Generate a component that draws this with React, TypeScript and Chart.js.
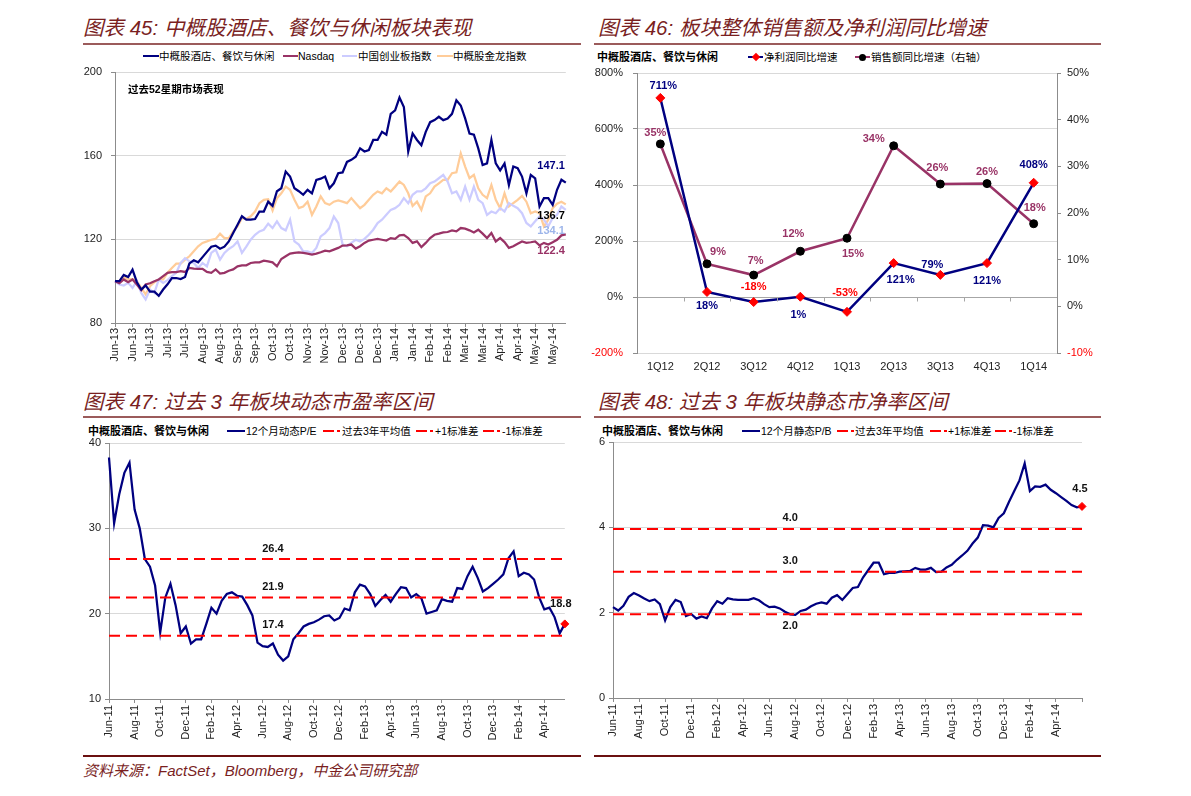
import React, { useEffect, useRef } from 'react';
import { Chart, registerables } from 'chart.js';

Chart.register(...registerables);

const LATIN = '"Liberation Sans", Arial, "Noto Sans CJK SC", sans-serif';
const CJK = '"Liberation Sans", "Noto Sans CJK SC", sans-serif';

// ================= 图表45 data =================
const c45TickLabels = ['Jun-13', 'Jun-13', 'Jul-13', 'Jul-13', 'Jul-13', 'Aug-13', 'Aug-13', 'Sep-13', 'Sep-13', 'Oct-13', 'Oct-13', 'Nov-13', 'Nov-13', 'Dec-13', 'Dec-13', 'Dec-13', 'Jan-14', 'Jan-14', 'Feb-14', 'Feb-14', 'Mar-14', 'Mar-14', 'Apr-14', 'Apr-14', 'May-14', 'May-14'];
const c45Hotel = [
  100, 100, 103, 102, 105.5, 99.5, 96, 98, 95, 95,
  93, 96, 98.5, 101.5, 101.5, 101, 102, 108.5, 110, 109,
  111.5, 114, 116.5, 117, 115.5, 116.5, 119, 123, 127, 131,
  129.4, 129.4, 129.7, 133.3, 133.3, 138, 136, 143, 144.4, 152.4,
  150, 144.4, 143, 141.3, 143.7, 142, 148.4, 149, 150, 144.4,
  146.8, 151.6, 152, 157, 158, 159.5, 163.5, 162, 162.7, 167.5,
  167.5, 171.4, 170, 180, 181.7, 187.8, 183.3, 162, 170.6, 167.5,
  165, 171.4, 176, 177, 178.6, 177, 177.8, 180, 186.5, 184,
  177.8, 170.6, 170, 163.5, 155.5, 156.3, 167.5, 156.3, 153, 156.3,
  146, 154.8, 154, 150, 142, 150.8, 149.2, 135.7, 139.7, 139.7,
  136.5, 143.7, 148.5, 147.1,
];
const c45Nasdaq = [
  100, 99, 100.8, 99.5, 100.8, 98.4, 95.7, 98.4, 99, 100,
  100.8, 102.4, 104, 104.3, 104.3, 104.8, 104.4, 106.3, 106, 105.9,
  105.9, 104.4, 104, 105.6, 103.6, 104, 105, 105.6, 107.1, 107.5,
  107.6, 108.7, 109, 109, 109.8, 109.5, 109, 107.1, 110.6, 111.9,
  113.2, 113.5, 113.8, 113.5, 113.2, 112.7, 113.2, 113.8, 114.6, 114.3,
  115.1, 115.9, 117, 117.1, 117.5, 115.6, 116.7, 118.3, 119.4, 119.8,
  120.2, 119.8, 119.4, 120.6, 120.2, 121.9, 122.1, 120.6, 118.3, 119,
  116.3, 118.3, 120.6, 122.2, 122.7, 123.3, 123.5, 124.3, 123.8, 125.4,
  125.1, 124.3, 123.3, 124.6, 122.7, 120.6, 123, 119, 120.6, 118.7,
  115.9, 116.7, 117.9, 119, 118.3, 118.6, 119, 117.1, 118.3, 117.5,
  118.6, 119.8, 121.9, 122.4,
];
const c45ChiNext = [
  100, 98.4, 97.9, 99.2, 96.8, 100, 94.4, 91.3, 96, 94.4,
  100.8, 99.2, 100.5, 102.4, 104, 108.7, 111, 109.5, 108.7, 106.3,
  108.7, 107.1, 113.5, 115.1, 110.3, 113.5, 115.4, 116.7, 119, 113.5,
  116.5, 119.8, 122.2, 123.8, 124.6, 127.5, 125.4, 128.6, 125.4, 124.3,
  129.4, 119, 117.5, 114.3, 114.3, 113.5, 115.9, 121.4, 123, 125.4,
  130.9, 127.8, 117.5, 116.7, 118.3, 119.8, 119, 120.2, 122.2, 124.6,
  127.8, 129.4, 131.7, 134.1, 134.9, 136.5, 139.7, 137.3, 141.3, 142.9,
  142.9, 144.4, 146.8, 147.6, 149.2, 150.8, 147.6, 142, 142.9, 138.9,
  145.2, 138.9, 145.2, 138.9, 137.3, 131.7, 133.3, 132.5, 134.9, 133.3,
  137.3, 136, 134.9, 132.5, 127.8, 126.2, 128.6, 130.9, 129.4, 126.2,
  130.2, 131.7, 135.7, 134.1,
];
const c45Golden = [
  100, 100, 102, 100.8, 101, 100, 96.8, 93.7, 97.6, 99.5,
  100.8, 100.8, 104, 106.3, 108.4, 108.4, 110.3, 111.9, 114.3, 116.7,
  118.3, 119, 119.8, 120.2, 122.7, 120.6, 120.6, 123.8, 126.2, 130.2,
  129.7, 131, 133.3, 137.3, 138.9, 139.2, 133.8, 139.7, 142, 145.2,
  143.7, 138.9, 134.9, 135.7, 138, 131.7, 135.7, 140.5, 137.3, 136.5,
  138, 138.6, 138, 137.3, 139.7, 137.3, 134.9, 136.5, 138.9, 141.3,
  142.9, 142, 144.4, 142.9, 145.2, 147.6, 146, 142, 136, 138,
  134.1, 140.5, 142, 145.2, 146.8, 148.4, 148.4, 151.6, 152, 161.1,
  154.8, 149.2, 150.8, 144.4, 141.3, 139.7, 146, 138.9, 134.9, 142,
  135.7, 137.3, 138.9, 140.8, 138, 132.5, 133.3, 132.5, 126.2, 129.4,
  134.9, 137, 138, 136.7,
];
const c45Names = ['中概股酒店、餐饮与休闲', 'Nasdaq', '中国创业板指数', '中概股金龙指数'];
const c45Note = '过去52星期市场表现';

// ================= 图表46 data =================
const c46Quarters = ['1Q12', '2Q12', '3Q12', '4Q12', '1Q13', '2Q13', '3Q13', '4Q13', '1Q14'];
const c46NetProfitGrowth = [711, 18, -18, 1, -53, 121, 79, 121, 408];
const c46SalesGrowth = [34.8, 9.1, 6.7, 11.8, 14.6, 34.4, 26.2, 26.3, 17.7];
const c46Names = ['净利润同比增速', '销售额同比增速（右轴）'];

// ================= 图表47 / 48 data =================
const c47TickLabels = ['Jun-11', 'Aug-11', 'Oct-11', 'Dec-11', 'Feb-12', 'Apr-12', 'Jun-12', 'Aug-12', 'Oct-12', 'Dec-12', 'Feb-13', 'Apr-13', 'Jun-13', 'Aug-13', 'Oct-13', 'Dec-13', 'Feb-14', 'Apr-14'];
const c47PE = [
  38.3, 30.6, 34, 36.5, 37.7, 32.2, 30, 26.4, 25.5, 23.3,
  17.8, 21.9, 23.5, 21, 17.7, 18.5, 16.5, 17, 17, 18.8,
  20.7, 20, 21.5, 22.3, 22.5, 22.1, 22, 21, 19.8, 16.6,
  16.2, 16.1, 16.5, 15.2, 14.5, 15, 17, 17.7, 18.5, 18.8,
  19, 19.3, 19.7, 19.8, 19.2, 19.5, 20.6, 20.4, 22.5, 23.4,
  23.2, 22.3, 20.9, 21.6, 22.2, 21.4, 22.3, 23.1, 23, 21.9,
  22.3, 21.8, 20, 20.2, 20.4, 21.7, 21.5, 21.4, 23, 22.9,
  24.4, 25.5, 24.2, 22.6, 23, 23.5, 24, 24.6, 26.5, 27.3,
  24.4, 24.8, 24.6, 24, 21.9, 20.5, 20.7, 19.6, 17.7, 18.8,
];
const c47Bands = [26.4, 21.9, 17.4];
const c48PB = [
  2.13, 2.05, 2.16, 2.37, 2.46, 2.4, 2.33, 2.27, 2.31, 2.2,
  1.82, 2.13, 2.3, 2.25, 1.92, 1.97, 1.86, 1.91, 1.87, 2.1,
  2.27, 2.21, 2.34, 2.31, 2.3, 2.3, 2.3, 2.34, 2.29, 2.2,
  2.13, 2.14, 2.1, 2.02, 1.96, 1.95, 2.04, 2.07, 2.15, 2.21,
  2.24, 2.21, 2.35, 2.41, 2.3, 2.44, 2.58, 2.6, 2.83, 3.0,
  3.17, 3.17, 2.9, 2.93, 2.93, 2.96, 2.97, 2.98, 3.05, 3.01,
  3.01, 3.05, 2.95, 2.96, 3.06, 3.12, 3.24, 3.34, 3.45, 3.62,
  3.76, 4.05, 4.04, 4.0, 4.22, 4.33, 4.6, 4.85, 5.1, 5.5,
  4.85, 4.96, 4.95, 5.0, 4.88, 4.8, 4.71, 4.62, 4.52, 4.47,
  4.49,
];
const c48Bands = [3.96, 2.96, 1.96];
const bandNames = ['过去3年平均值', '+1标准差', '-1标准差'];

// ================= styling =================
const NAVY = '#000080';
const PLUM = '#993366';
const LAV = '#CCCCFF';
const PEACH = '#FFCC99';
const RED = '#FF0000';
const AXIS = '#8C8C8C';
const GRID = '#D9D9D9';
const TICKTXT = '#222222';
const TITLE_RED = '#7A1F1F';

function expandLabels(tickLabels: string[], step: number, count: number) {
  const out: string[] = [];
  for (let i = 0; i < count; i++) out.push(i % step === 0 && tickLabels[i / step] ? tickLabels[i / step] : '');
  return out;
}

function fixWidth(width: number) {
  return (s: any) => { s.width = width; s.paddingTop = 0; s.paddingBottom = 0; };
}

function xTimeAxis(step: number, height: number, padding: number) {
  return {
    grid: {
      drawOnChartArea: false,
      drawTicks: true,
      tickLength: 4,
      tickColor: (c: any) => (c.index % step === 0 ? AXIS : 'rgba(0,0,0,0)'),
    },
    border: { color: AXIS },
    ticks: { autoSkip: false, maxRotation: 90, minRotation: 90, padding, color: TICKTXT, font: { family: LATIN, size: 11 } },
    afterFit: (s: any) => { s.height = height; },
  };
}

function yAxis(min: number, max: number, step: number, width: number, padding: number) {
  return {
    min, max,
    ticks: { stepSize: step, padding, color: TICKTXT, font: { family: LATIN, size: 11 } },
    grid: { color: GRID, tickLength: 4, tickColor: AXIS },
    border: { color: AXIS },
    afterFit: fixWidth(width),
  };
}

const baseOpts = {
  animation: false,
  responsive: false,
  devicePixelRatio: 1,
  plugins: { legend: { display: false }, tooltip: { enabled: false } },
};

// ---------- chart 45 ----------
const c45EndColors = [NAVY, PLUM, '#9DB5EA', '#000000'];
const c45EndDy = [-17, 17, 21, 12];
function makeC45() {
  const series = [c45Hotel, c45Nasdaq, c45ChiNext, c45Golden];
  const colors = [NAVY, PLUM, LAV, PEACH];
  return {
    type: 'line',
    data: {
      labels: expandLabels(c45TickLabels, 4, c45Hotel.length),
      datasets: series.map((d, k) => ({
        label: c45Names[k], data: d, borderColor: colors[k], borderWidth: 2.25, pointRadius: 0, tension: 0,
      })),
    },
    options: {
      ...baseOpts,
      layout: { padding: { top: 8, right: 11 } },
      scales: { x: xTimeAxis(4, 52, 1), y: yAxis(80, 200, 40, 35, 9) },
    },
    plugins: [{
      id: 'c45ann',
      afterDatasetsDraw(chart: any) {
        const { ctx, chartArea, scales: { y } } = chart;
        ctx.save();
        ctx.textBaseline = 'middle';
        ctx.textAlign = 'left';
        ctx.fillStyle = '#000';
        ctx.font = `bold 10.5px ${CJK}`;
        ctx.fillText(c45Note, chartArea.left + 13, chartArea.top + 18);
        ctx.font = `bold 11px ${LATIN}`;
        ctx.textAlign = 'right';
        series.forEach((d, k) => {
          const v = d[d.length - 1];
          ctx.fillStyle = c45EndColors[k];
          ctx.fillText(v.toFixed(1), chartArea.right - 1, y.getPixelForValue(v) + c45EndDy[k]);
        });
        ctx.restore();
      },
    }],
  };
}

// ---------- chart 46 ----------
const c46ProfitOffsets = [[3, -12], [0, 14], [0, -15], [-2, 18], [-2, -19], [7, 17], [-8, -10], [0, 18], [0, -18]];
const c46SalesOffsets = [[-5, -11], [11, -12], [2, -14], [-7, -17], [6, 16], [-20, -7], [-3, -16], [0, -12], [1, -16]];
function makeC46() {
  const tickFont = { family: LATIN, size: 11 };
  return {
    type: 'line',
    data: {
      labels: c46Quarters,
      datasets: [
        {
          label: c46Names[0], data: c46NetProfitGrowth, yAxisID: 'y', borderColor: NAVY, borderWidth: 2.5,
          pointStyle: 'rectRot', pointRadius: 4.5, pointBackgroundColor: RED, pointBorderColor: RED, pointBorderWidth: 1,
        },
        {
          label: c46Names[1], data: c46SalesGrowth, yAxisID: 'y1', borderColor: PLUM, borderWidth: 2.5,
          pointStyle: 'circle', pointRadius: 4, pointBackgroundColor: '#000', pointBorderColor: '#000', pointBorderWidth: 1,
        },
      ],
    },
    options: {
      ...baseOpts,
      layout: { padding: { top: 9 } },
      scales: {
        x: {
          offset: true,
          grid: { display: false, drawTicks: false },
          border: { display: false },
          ticks: { padding: 7, color: TICKTXT, font: tickFont },
          afterFit: (s: any) => { s.height = 22; },
        },
        y: {
          position: 'left', min: -200, max: 800,
          ticks: {
            stepSize: 200, padding: 10, font: tickFont,
            callback: (v: number) => `${v}%`,
            color: (c: any) => (c.tick.value < 0 ? RED : TICKTXT),
          },
          grid: { color: (c: any) => (c.tick && c.tick.value === 0 ? '#A6A6A6' : GRID), tickLength: 4, tickColor: AXIS },
          border: { color: AXIS },
          afterFit: fixWidth(47),
        },
        y1: {
          position: 'right', min: -10, max: 50,
          ticks: {
            stepSize: 10, padding: 6, font: tickFont,
            callback: (v: number) => `${v}%`,
            color: (c: any) => (c.tick.value < 0 ? RED : TICKTXT),
          },
          grid: { drawOnChartArea: false, tickLength: 4, tickColor: AXIS },
          border: { color: AXIS },
          afterFit: fixWidth(43),
        },
      },
    },
    plugins: [{
      id: 'c46ann',
      afterDatasetsDraw(chart: any) {
        const { ctx, scales: { x, y, y1 } } = chart;
        ctx.save();
        const y0 = Math.round(y.getPixelForValue(0)) + 0.5;
        ctx.strokeStyle = '#A6A6A6';
        ctx.lineWidth = 1;
        for (let i = 1; i < c46Quarters.length; i++) {
          const px = Math.round((x.getPixelForValue(i - 1) + x.getPixelForValue(i)) / 2) + 0.5;
          ctx.beginPath(); ctx.moveTo(px, y0); ctx.lineTo(px, y0 + 4); ctx.stroke();
        }
        ctx.font = `bold 11px ${LATIN}`;
        ctx.textAlign = 'center';
        ctx.textBaseline = 'middle';
        c46NetProfitGrowth.forEach((v, i) => {
          const [dx, dy] = c46ProfitOffsets[i];
          ctx.fillStyle = v < 0 ? RED : NAVY;
          ctx.fillText(`${v}%`, x.getPixelForValue(i) + dx, y.getPixelForValue(v) + dy);
        });
        c46SalesGrowth.forEach((v, i) => {
          const [dx, dy] = c46SalesOffsets[i];
          ctx.fillStyle = PLUM;
          ctx.fillText(`${Math.round(v)}%`, x.getPixelForValue(i) + dx, y1.getPixelForValue(v) + dy);
        });
        ctx.restore();
      },
    }],
  };
}

// ---------- chart 47 / 48 ----------
function makeBandChart(o: any) {
  const last = o.data.length - 1;
  return {
    type: 'line',
    data: {
      labels: expandLabels(c47TickLabels, 5, o.data.length),
      datasets: [{
        label: o.name, data: o.data, borderColor: NAVY, borderWidth: 2.25, tension: 0,
        pointStyle: 'rectRot',
        pointRadius: (c: any) => (c.dataIndex === last ? 4 : 0),
        pointBackgroundColor: RED, pointBorderColor: RED, pointBorderWidth: 1,
      }],
    },
    options: {
      ...baseOpts,
      layout: { padding: { top: o.padTop, right: o.padRight } },
      scales: { x: xTimeAxis(5, o.xHeight, 2), y: yAxis(o.min, o.max, o.step, o.yWidth, 4) },
    },
    plugins: [{
      id: 'bands',
      afterDatasetsDraw(chart: any) {
        const { ctx, chartArea, scales: { x, y } } = chart;
        ctx.save();
        ctx.strokeStyle = RED;
        ctx.lineWidth = 2;
        ctx.setLineDash([11, 6]);
        o.bands.forEach((b: number) => {
          const py = y.getPixelForValue(b);
          ctx.beginPath(); ctx.moveTo(chartArea.left, py); ctx.lineTo(chartArea.right, py); ctx.stroke();
        });
        ctx.setLineDash([]);
        ctx.font = `bold 11px ${LATIN}`;
        ctx.textAlign = 'center';
        ctx.textBaseline = 'middle';
        ctx.fillStyle = '#111';
        o.bands.forEach((b: number, k: number) => {
          ctx.fillText(b.toFixed(1), x.getPixelForValue(o.labelIndex), y.getPixelForValue(b) + o.labelDy[k]);
        });
        const v = o.data[last];
        ctx.fillText(v.toFixed(1), x.getPixelForValue(last) + o.endDx, y.getPixelForValue(v) + o.endDy);
        ctx.restore();
      },
    }],
  };
}

const makeC47 = () => makeBandChart({
  name: '12个月动态P/E', data: c47PE, bands: c47Bands, min: 10, max: 40, step: 10,
  padTop: 11, padRight: 11, xHeight: 57, yWidth: 29, labelIndex: 32, labelDy: [-10, -10, -11], endDx: -4, endDy: -20,
});
const makeC48 = () => makeBandChart({
  name: '12个月静态P/B', data: c48PB, bands: c48Bands, min: 0, max: 6, step: 2,
  padTop: 10, padRight: 18, xHeight: 58, yWidth: 23, labelIndex: 34, labelDy: [-11, -11, 12], endDx: -2, endDy: -17,
});

// ================= components =================
function ChartCanvas({ left, top, width, height, make }: any) {
  const ref = useRef<HTMLCanvasElement | null>(null);
  useEffect(() => {
    const chart = new Chart(ref.current as HTMLCanvasElement, make());
    return () => chart.destroy();
  }, []);
  return <canvas ref={ref} width={width} height={height} style={{ position: 'absolute', left, top, width, height }} />;
}

function Title({ x, y, text }: any) {
  return (
    <div style={{ position: 'absolute', left: x, top: y - 13, height: 26, lineHeight: '26px', fontSize: 20.5, fontStyle: 'italic', color: TITLE_RED, fontFamily: CJK, whiteSpace: 'nowrap' }}>{text}</div>
  );
}

function Rule({ x, y, w, color }: any) {
  return <div style={{ position: 'absolute', left: x, top: y, width: w, height: 2, background: color }} />;
}

function LText({ x, y, text, bold, size }: any) {
  return (
    <div style={{ position: 'absolute', left: x, top: y - 8, height: 16, lineHeight: '16px', fontSize: size || 10.5, fontWeight: bold ? 'bold' : 'normal', fontFamily: CJK, color: '#000', whiteSpace: 'nowrap' }}>{text}</div>
  );
}

function LineSym({ x, y, w, color, h = 2.5 }: any) {
  return <div style={{ position: 'absolute', left: x, top: y - h / 2, width: w, height: h, background: color }} />;
}

function Diamond({ cx, cy, color }: any) {
  return <div style={{ position: 'absolute', left: cx - 3, top: cy - 3, width: 6, height: 6, background: color, transform: 'rotate(45deg)' }} />;
}

function Dot({ cx, cy, color }: any) {
  return <div style={{ position: 'absolute', left: cx - 3.5, top: cy - 3.5, width: 7, height: 7, background: color, borderRadius: '50%' }} />;
}

function DashSym({ x, y }: any) {
  return (
    <>
      <div style={{ position: 'absolute', left: x, top: y - 1.25, width: 10.5, height: 2.5, background: RED }} />
      <div style={{ position: 'absolute', left: x + 14, top: y - 1.25, width: 2.5, height: 2.5, background: RED }} />
    </>
  );
}

export default function App() {
  const ruleTop = '#9B5B5B';
  const ruleBottom = '#6B1010';
  return (
    <div style={{ position: 'absolute', left: 0, top: 0, width: 1191, height: 796, background: '#fff', overflow: 'hidden' }}>
      <Title x={83} y={28} text="图表 45: 中概股酒店、餐饮与休闲板块表现" />
      <Title x={598} y={28} text="图表 46: 板块整体销售额及净利润同比增速" />
      <Rule x={83} y={43} w={498} color={ruleTop} />
      <Rule x={594} y={43} w={507} color={ruleTop} />

      <Title x={83} y={402} text="图表 47: 过去 3 年板块动态市盈率区间" />
      <Title x={598} y={402} text="图表 48: 过去 3 年板块静态市净率区间" />
      <Rule x={83} y={416} w={498} color={ruleTop} />
      <Rule x={594} y={416} w={507} color={ruleTop} />

      {/* legend 45 */}
      <LineSym x={143} y={56} w={16} color={NAVY} />
      <LText x={159} y={56} text={c45Names[0]} />
      <LineSym x={283} y={56} w={15} color={PLUM} />
      <LText x={298} y={56} text={c45Names[1]} />
      <LineSym x={342} y={56} w={15} color={LAV} />
      <LText x={358} y={56} text={c45Names[2]} />
      <LineSym x={437} y={56} w={16} color={PEACH} />
      <LText x={453} y={56} text={c45Names[3]} />

      {/* legend 46 */}
      <LText x={597} y={57} text="中概股酒店、餐饮与休闲" bold size={11} />
      <LineSym x={748} y={57} w={15} color={NAVY} />
      <Diamond cx={755.5} cy={57} color={RED} />
      <LText x={764} y={57} text={c46Names[0]} />
      <LineSym x={855} y={57} w={15} color={PLUM} />
      <Dot cx={862.5} cy={57} color="#000" />
      <LText x={871} y={57} text={c46Names[1]} />

      {/* legend 47 */}
      <LText x={88} y={431} text="中概股酒店、餐饮与休闲" bold size={11} />
      <LineSym x={227} y={431} w={18} color={NAVY} />
      <LText x={246} y={431} text="12个月动态P/E" />
      <DashSym x={323} y={431} />
      <LText x={342} y={431} text={bandNames[0]} />
      <DashSym x={416} y={431} />
      <LText x={435} y={431} text={bandNames[1]} />
      <DashSym x={483} y={431} />
      <LText x={502} y={431} text={bandNames[2]} />

      {/* legend 48 */}
      <LText x={602} y={431} text="中概股酒店、餐饮与休闲" bold size={11} />
      <LineSym x={742} y={431} w={18} color={NAVY} />
      <LText x={761} y={431} text="12个月静态P/B" />
      <DashSym x={837} y={431} />
      <LText x={855} y={431} text={bandNames[0]} />
      <DashSym x={930} y={431} />
      <LText x={948} y={431} text={bandNames[1]} />
      <DashSym x={995} y={431} />
      <LText x={1013} y={431} text={bandNames[2]} />

      <ChartCanvas left={80} top={64} width={500} height={311} make={makeC45} />
      <ChartCanvas left={590} top={64} width={510} height={311} make={makeC46} />
      <ChartCanvas left={80} top={432} width={500} height={324} make={makeC47} />
      <ChartCanvas left={590} top={432} width={510} height={324} make={makeC48} />

      <Rule x={83} y={755} w={498} color={ruleBottom} />
      <Rule x={594} y={755} w={507} color={ruleBottom} />
      <div style={{ position: 'absolute', left: 83, top: 761, height: 20, lineHeight: '20px', fontSize: 15, fontStyle: 'italic', color: TITLE_RED, fontFamily: CJK, whiteSpace: 'nowrap' }}>
        资料来源：FactSet，Bloomberg，中金公司研究部
      </div>
    </div>
  );
}
